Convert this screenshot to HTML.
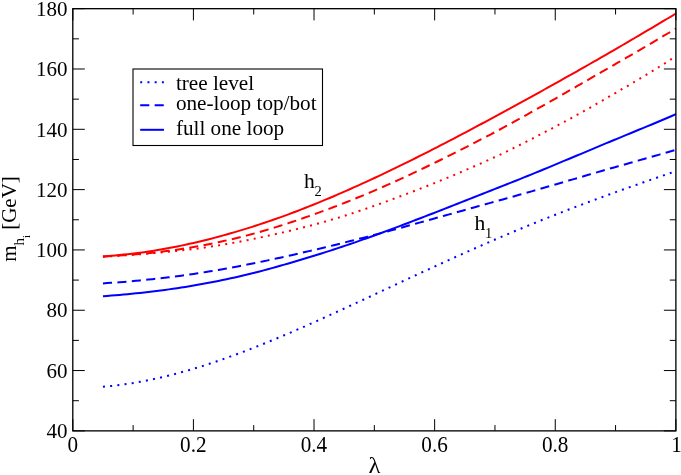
<!DOCTYPE html>
<html><head><meta charset="utf-8"><title>plot</title>
<style>
html,body{margin:0;padding:0;background:#fff;}
svg{display:block;will-change:transform;}
text{font-family:"Liberation Serif",serif;fill:#000;}
</style></head>
<body>
<svg width="681" height="475" viewBox="0 0 681 475">
<rect x="0" y="0" width="681" height="475" fill="#fff"/>
<g>
<path d="M102.95 256.46 L107.08 256.13 L111.20 255.78 L115.32 255.41 L119.44 255.02 L123.56 254.61 L127.68 254.17 L131.81 253.70 L135.93 253.22 L140.05 252.71 L144.17 252.17 L148.29 251.61 L152.42 250.97 L156.54 250.29 L160.66 249.57 L164.78 248.83 L168.90 248.07 L173.02 247.27 L177.15 246.45 L181.27 245.61 L185.39 244.73 L189.51 243.83 L193.63 242.90 L197.75 241.95 L201.88 240.97 L206.00 239.96 L210.12 238.92 L214.24 237.86 L218.36 236.77 L222.49 235.65 L226.61 234.50 L230.73 233.33 L234.85 232.14 L238.97 230.91 L243.09 229.66 L247.22 228.39 L251.34 227.09 L255.46 225.77 L259.58 224.42 L263.70 223.05 L267.82 221.66 L271.95 220.24 L276.07 218.80 L280.19 217.33 L284.31 215.84 L288.43 214.32 L292.56 212.79 L296.68 211.23 L300.80 209.64 L304.92 208.04 L309.04 206.41 L313.16 204.76 L317.29 203.09 L321.41 201.40 L325.53 199.69 L329.65 197.96 L333.77 196.21 L337.89 194.44 L342.02 192.65 L346.14 190.84 L350.26 189.02 L354.38 187.18 L358.50 185.32 L362.63 183.45 L366.75 181.56 L370.87 179.65 L374.99 177.73 L379.11 175.79 L383.23 173.84 L387.36 171.88 L391.48 169.90 L395.60 167.91 L399.72 165.90 L403.84 163.88 L407.96 161.85 L412.09 159.80 L416.21 157.75 L420.33 155.68 L424.45 153.61 L428.57 151.52 L432.70 149.42 L436.82 147.31 L440.94 145.20 L445.06 143.07 L449.18 140.93 L453.30 138.78 L457.43 136.62 L461.55 134.45 L465.67 132.27 L469.79 130.09 L473.91 127.90 L478.04 125.70 L482.16 123.50 L486.28 121.29 L490.40 119.07 L494.52 116.85 L498.64 114.62 L502.77 112.39 L506.89 110.15 L511.01 107.91 L515.13 105.66 L519.25 103.41 L523.37 101.15 L527.50 98.89 L531.62 96.62 L535.74 94.33 L539.86 92.05 L543.98 89.75 L548.11 87.46 L552.23 85.16 L556.35 82.85 L560.47 80.54 L564.59 78.23 L568.71 75.91 L572.84 73.59 L576.96 71.26 L581.08 68.93 L585.20 66.59 L589.32 64.25 L593.44 61.90 L597.57 59.55 L601.69 57.19 L605.81 54.81 L609.93 52.43 L614.05 50.04 L618.18 47.65 L622.30 45.25 L626.42 42.84 L630.54 40.42 L634.66 37.99 L638.78 35.55 L642.91 33.14 L647.03 30.73 L651.15 28.31 L655.27 25.88 L659.39 23.44 L663.51 20.98 L667.64 18.51 L671.76 16.03 L675.88 13.52" fill="none" stroke="#ff0000" stroke-width="2"/>
<path d="M102.95 256.48 L107.08 256.29 L111.20 256.07 L115.32 255.84 L119.44 255.59 L123.56 255.31 L127.68 255.02 L131.81 254.70 L135.93 254.36 L140.05 254.00 L144.17 253.61 L148.29 253.20 L152.42 252.77 L156.54 252.31 L160.66 251.83 L164.78 251.32 L168.90 250.79 L173.02 250.23 L177.15 249.64 L181.27 249.03 L185.39 248.38 L189.51 247.70 L193.63 246.99 L197.75 246.26 L201.88 245.51 L206.00 244.72 L210.12 243.91 L214.24 243.07 L218.36 242.20 L222.49 241.31 L226.61 240.39 L230.73 239.44 L234.85 238.47 L238.97 237.47 L243.09 236.44 L247.22 235.39 L251.34 234.30 L255.46 233.17 L259.58 232.01 L263.70 230.82 L267.82 229.61 L271.95 228.37 L276.07 227.10 L280.19 225.81 L284.31 224.50 L288.43 223.16 L292.56 221.79 L296.68 220.40 L300.80 218.98 L304.92 217.54 L309.04 216.08 L313.16 214.63 L317.29 213.16 L321.41 211.67 L325.53 210.15 L329.65 208.62 L333.77 207.06 L337.89 205.48 L342.02 203.88 L346.14 202.25 L350.26 200.61 L354.38 198.94 L358.50 197.26 L362.63 195.55 L366.75 193.82 L370.87 192.08 L374.99 190.31 L379.11 188.53 L383.23 186.73 L387.36 184.91 L391.48 183.08 L395.60 181.22 L399.72 179.35 L403.84 177.46 L407.96 175.55 L412.09 173.62 L416.21 171.68 L420.33 169.73 L424.45 167.76 L428.57 165.77 L432.70 163.77 L436.82 161.76 L440.94 159.74 L445.06 157.70 L449.18 155.65 L453.30 153.59 L457.43 151.51 L461.55 149.43 L465.67 147.33 L469.79 145.22 L473.91 143.11 L478.04 140.98 L482.16 138.84 L486.28 136.69 L490.40 134.54 L494.52 132.37 L498.64 130.20 L502.77 127.97 L506.89 125.71 L511.01 123.44 L515.13 121.16 L519.25 118.88 L523.37 116.59 L527.50 114.29 L531.62 111.99 L535.74 109.67 L539.86 107.36 L543.98 105.03 L548.11 102.70 L552.23 100.37 L556.35 98.03 L560.47 95.68 L564.59 93.32 L568.71 90.97 L572.84 88.60 L576.96 86.23 L581.08 83.86 L585.20 81.48 L589.32 79.09 L593.44 76.70 L597.57 74.31 L601.69 71.93 L605.81 69.57 L609.93 67.21 L614.05 64.85 L618.18 62.48 L622.30 60.10 L626.42 57.72 L630.54 55.33 L634.66 52.94 L638.78 50.53 L642.91 48.13 L647.03 45.71 L651.15 43.29 L655.27 40.85 L659.39 38.42 L663.51 35.97 L667.64 33.51 L671.76 31.05 L675.88 28.57" fill="none" stroke="#ff0000" stroke-width="2" stroke-dasharray="9.1 5.37"/>
<path d="M102.95 256.78 L107.08 256.51 L111.20 256.25 L115.32 255.97 L119.44 255.70 L123.56 255.41 L127.68 255.12 L131.81 254.83 L135.93 254.52 L140.05 254.21 L144.17 253.89 L148.29 253.56 L152.42 253.21 L156.54 252.86 L160.66 252.49 L164.78 252.11 L168.90 251.71 L173.02 251.30 L177.15 250.88 L181.27 250.43 L185.39 249.98 L189.51 249.50 L193.63 249.01 L197.75 248.50 L201.88 247.95 L206.00 247.34 L210.12 246.71 L214.24 246.07 L218.36 245.40 L222.49 244.72 L226.61 244.01 L230.73 243.29 L234.85 242.54 L238.97 241.78 L243.09 240.99 L247.22 240.18 L251.34 239.35 L255.46 238.50 L259.58 237.63 L263.70 236.73 L267.82 235.82 L271.95 234.88 L276.07 233.94 L280.19 233.02 L284.31 232.07 L288.43 231.11 L292.56 230.12 L296.68 229.11 L300.80 228.08 L304.92 227.03 L309.04 225.95 L313.16 224.86 L317.29 223.74 L321.41 222.60 L325.53 221.44 L329.65 220.26 L333.77 219.06 L337.89 217.84 L342.02 216.58 L346.14 215.27 L350.26 213.94 L354.38 212.59 L358.50 211.22 L362.63 209.84 L366.75 208.43 L370.87 207.00 L374.99 205.55 L379.11 204.09 L383.23 202.60 L387.36 201.10 L391.48 199.58 L395.60 198.04 L399.72 196.49 L403.84 194.95 L407.96 193.41 L412.09 191.85 L416.21 190.27 L420.33 188.67 L424.45 187.06 L428.57 185.43 L432.70 183.78 L436.82 182.12 L440.94 180.44 L445.06 178.75 L449.18 177.04 L453.30 175.32 L457.43 173.58 L461.55 171.82 L465.67 170.05 L469.79 168.27 L473.91 166.47 L478.04 164.66 L482.16 162.83 L486.28 160.99 L490.40 159.13 L494.52 157.26 L498.64 155.38 L502.77 153.41 L506.89 151.39 L511.01 149.35 L515.13 147.31 L519.25 145.25 L523.37 143.17 L527.50 141.08 L531.62 138.98 L535.74 136.86 L539.86 134.73 L543.98 132.59 L548.11 130.43 L552.23 128.26 L556.35 126.07 L560.47 123.87 L564.59 121.65 L568.71 119.42 L572.84 117.17 L576.96 114.91 L581.08 112.63 L585.20 110.33 L589.32 108.02 L593.44 105.70 L597.57 103.35 L601.69 100.99 L605.81 98.61 L609.93 96.21 L614.05 93.80 L618.18 91.36 L622.30 88.96 L626.42 86.58 L630.54 84.18 L634.66 81.76 L638.78 79.32 L642.91 76.85 L647.03 74.36 L651.15 71.85 L655.27 69.31 L659.39 66.74 L663.51 64.15 L667.64 61.53 L671.76 58.89 L675.88 56.21" fill="none" stroke="#ff0000" stroke-width="2" stroke-dasharray="2 5.235"/>
<path d="M102.95 283.39 L107.08 283.12 L111.20 282.84 L115.32 282.54 L119.44 282.23 L123.56 281.90 L127.68 281.56 L131.81 281.20 L135.93 280.82 L140.05 280.43 L144.17 280.03 L148.29 279.60 L152.42 279.17 L156.54 278.71 L160.66 278.24 L164.78 277.75 L168.90 277.25 L173.02 276.73 L177.15 276.20 L181.27 275.65 L185.39 275.08 L189.51 274.50 L193.63 273.90 L197.75 273.29 L201.88 272.65 L206.00 271.99 L210.12 271.32 L214.24 270.63 L218.36 269.92 L222.49 269.21 L226.61 268.47 L230.73 267.72 L234.85 266.96 L238.97 266.18 L243.09 265.39 L247.22 264.59 L251.34 263.77 L255.46 262.93 L259.58 262.09 L263.70 261.23 L267.82 260.36 L271.95 259.48 L276.07 258.58 L280.19 257.67 L284.31 256.75 L288.43 255.82 L292.56 254.90 L296.68 253.97 L300.80 253.04 L304.92 252.09 L309.04 251.14 L313.16 250.17 L317.29 249.20 L321.41 248.21 L325.53 247.22 L329.65 246.22 L333.77 245.21 L337.89 244.19 L342.02 243.16 L346.14 242.13 L350.26 241.09 L354.38 240.05 L358.50 238.99 L362.63 237.93 L366.75 236.87 L370.87 235.80 L374.99 234.72 L379.11 233.64 L383.23 232.54 L387.36 231.42 L391.48 230.31 L395.60 229.19 L399.72 228.06 L403.84 226.93 L407.96 225.80 L412.09 224.67 L416.21 223.53 L420.33 222.39 L424.45 221.25 L428.57 220.11 L432.70 218.96 L436.82 217.81 L440.94 216.67 L445.06 215.52 L449.18 214.37 L453.30 213.22 L457.43 212.07 L461.55 210.92 L465.67 209.77 L469.79 208.61 L473.91 207.46 L478.04 206.31 L482.16 205.16 L486.28 204.01 L490.40 202.86 L494.52 201.71 L498.64 200.56 L502.77 199.42 L506.89 198.27 L511.01 197.12 L515.13 195.98 L519.25 194.83 L523.37 193.69 L527.50 192.55 L531.62 191.38 L535.74 190.18 L539.86 188.98 L543.98 187.78 L548.11 186.58 L552.23 185.38 L556.35 184.18 L560.47 182.98 L564.59 181.78 L568.71 180.58 L572.84 179.38 L576.96 178.18 L581.08 176.98 L585.20 175.78 L589.32 174.57 L593.44 173.36 L597.57 172.15 L601.69 170.94 L605.81 169.74 L609.93 168.59 L614.05 167.44 L618.18 166.28 L622.30 165.11 L626.42 163.95 L630.54 162.77 L634.66 161.59 L638.78 160.40 L642.91 159.25 L647.03 158.11 L651.15 156.95 L655.27 155.79 L659.39 154.62 L663.51 153.43 L667.64 152.24 L671.76 151.03 L675.88 149.81" fill="none" stroke="#0000ff" stroke-width="2" stroke-dasharray="9.1 5.37"/>
<path d="M102.95 296.19 L107.08 295.89 L111.20 295.57 L115.32 295.24 L119.44 294.89 L123.56 294.53 L127.68 294.15 L131.81 293.76 L135.93 293.34 L140.05 292.92 L144.17 292.47 L148.29 292.00 L152.42 291.52 L156.54 291.01 L160.66 290.49 L164.78 289.95 L168.90 289.38 L173.02 288.80 L177.15 288.19 L181.27 287.56 L185.39 286.91 L189.51 286.24 L193.63 285.55 L197.75 284.84 L201.88 284.10 L206.00 283.34 L210.12 282.56 L214.24 281.76 L218.36 280.93 L222.49 280.09 L226.61 279.22 L230.73 278.33 L234.85 277.42 L238.97 276.48 L243.09 275.53 L247.22 274.55 L251.34 273.55 L255.46 272.50 L259.58 271.44 L263.70 270.36 L267.82 269.26 L271.95 268.14 L276.07 266.99 L280.19 265.83 L284.31 264.65 L288.43 263.45 L292.56 262.23 L296.68 260.99 L300.80 259.75 L304.92 258.52 L309.04 257.28 L313.16 256.03 L317.29 254.75 L321.41 253.46 L325.53 252.16 L329.65 250.84 L333.77 249.50 L337.89 248.15 L342.02 246.79 L346.14 245.41 L350.26 244.02 L354.38 242.58 L358.50 241.13 L362.63 239.67 L366.75 238.20 L370.87 236.72 L374.99 235.22 L379.11 233.72 L383.23 232.21 L387.36 230.68 L391.48 229.15 L395.60 227.61 L399.72 226.07 L403.84 224.51 L407.96 222.95 L412.09 221.38 L416.21 219.80 L420.33 218.22 L424.45 216.64 L428.57 215.04 L432.70 213.45 L436.82 211.85 L440.94 210.24 L445.06 208.63 L449.18 207.02 L453.30 205.40 L457.43 203.78 L461.55 202.16 L465.67 200.54 L469.79 198.91 L473.91 197.29 L478.04 195.66 L482.16 194.03 L486.28 192.39 L490.40 190.76 L494.52 189.13 L498.64 187.49 L502.77 185.86 L506.89 184.22 L511.01 182.59 L515.13 180.95 L519.25 179.31 L523.37 177.68 L527.50 176.04 L531.62 174.38 L535.74 172.67 L539.86 170.96 L543.98 169.25 L548.11 167.55 L552.23 165.84 L556.35 164.12 L560.47 162.41 L564.59 160.70 L568.71 158.98 L572.84 157.26 L576.96 155.54 L581.08 153.82 L585.20 152.09 L589.32 150.35 L593.44 148.62 L597.57 146.88 L601.69 145.13 L605.81 143.39 L609.93 141.72 L614.05 140.04 L618.18 138.35 L622.30 136.66 L626.42 134.95 L630.54 133.23 L634.66 131.50 L638.78 129.76 L642.91 128.07 L647.03 126.40 L651.15 124.71 L655.27 123.00 L659.39 121.27 L663.51 119.53 L667.64 117.76 L671.76 115.98 L675.88 114.17" fill="none" stroke="#0000ff" stroke-width="2"/>
<path d="M102.95 386.77 L107.08 386.41 L111.20 386.00 L115.32 385.54 L119.44 385.04 L123.56 384.49 L127.68 383.89 L131.81 383.24 L135.93 382.56 L140.05 381.82 L144.17 381.05 L148.29 380.23 L152.42 379.38 L156.54 378.48 L160.66 377.55 L164.78 376.57 L168.90 375.56 L173.02 374.51 L177.15 373.42 L181.27 372.30 L185.39 371.15 L189.51 369.96 L193.63 368.74 L197.75 367.49 L201.88 366.21 L206.00 364.89 L210.12 363.55 L214.24 362.18 L218.36 360.78 L222.49 359.35 L226.61 357.90 L230.73 356.42 L234.85 354.92 L238.97 353.39 L243.09 351.84 L247.22 350.27 L251.34 348.67 L255.46 347.06 L259.58 345.42 L263.70 343.76 L267.82 342.09 L271.95 340.40 L276.07 338.69 L280.19 336.96 L284.31 335.22 L288.43 333.46 L292.56 331.69 L296.68 329.90 L300.80 328.11 L304.92 326.29 L309.04 324.47 L313.16 322.64 L317.29 320.79 L321.41 318.94 L325.53 317.08 L329.65 315.20 L333.77 313.33 L337.89 311.44 L342.02 309.55 L346.14 307.65 L350.26 305.74 L354.38 303.83 L358.50 301.92 L362.63 300.00 L366.75 298.08 L370.87 296.16 L374.99 294.24 L379.11 292.31 L383.23 290.39 L387.36 288.46 L391.48 286.53 L395.60 284.61 L399.72 282.69 L403.84 280.76 L407.96 278.84 L412.09 276.93 L416.21 275.01 L420.33 273.10 L424.45 271.20 L428.57 269.30 L432.70 267.40 L436.82 265.51 L440.94 263.62 L445.06 261.74 L449.18 259.87 L453.30 258.01 L457.43 256.15 L461.55 254.30 L465.67 252.45 L469.79 250.62 L473.91 248.79 L478.04 246.97 L482.16 245.16 L486.28 243.36 L490.40 241.57 L494.52 239.79 L498.64 238.02 L502.77 236.26 L506.89 234.51 L511.01 232.77 L515.13 231.04 L519.25 229.32 L523.37 227.62 L527.50 225.92 L531.62 224.23 L535.74 222.56 L539.86 220.89 L543.98 219.24 L548.11 217.60 L552.23 215.97 L556.35 214.35 L560.47 212.74 L564.59 211.14 L568.71 209.55 L572.84 207.97 L576.96 206.41 L581.08 204.85 L585.20 203.30 L589.32 201.77 L593.44 200.24 L597.57 198.72 L601.69 197.21 L605.81 195.71 L609.93 194.22 L614.05 192.74 L618.18 191.26 L622.30 189.79 L626.42 188.33 L630.54 186.88 L634.66 185.43 L638.78 183.99 L642.91 182.55 L647.03 181.11 L651.15 179.68 L655.27 178.26 L659.39 176.83 L663.51 175.41 L667.64 173.99 L671.76 172.57 L675.88 171.15" fill="none" stroke="#0000ff" stroke-width="2" stroke-dasharray="2 5.235"/>
</g>
<g stroke="#000" stroke-width="1.0" fill="none">
<line x1="72.80" y1="430.87" x2="72.80" y2="419.17"/>
<line x1="72.80" y1="8.68" x2="72.80" y2="20.38"/>
<line x1="133.11" y1="430.87" x2="133.11" y2="425.07"/>
<line x1="133.11" y1="8.68" x2="133.11" y2="14.48"/>
<line x1="193.42" y1="430.87" x2="193.42" y2="419.17"/>
<line x1="193.42" y1="8.68" x2="193.42" y2="20.38"/>
<line x1="253.72" y1="430.87" x2="253.72" y2="425.07"/>
<line x1="253.72" y1="8.68" x2="253.72" y2="14.48"/>
<line x1="314.03" y1="430.87" x2="314.03" y2="419.17"/>
<line x1="314.03" y1="8.68" x2="314.03" y2="20.38"/>
<line x1="374.34" y1="430.87" x2="374.34" y2="425.07"/>
<line x1="374.34" y1="8.68" x2="374.34" y2="14.48"/>
<line x1="434.65" y1="430.87" x2="434.65" y2="419.17"/>
<line x1="434.65" y1="8.68" x2="434.65" y2="20.38"/>
<line x1="494.96" y1="430.87" x2="494.96" y2="425.07"/>
<line x1="494.96" y1="8.68" x2="494.96" y2="14.48"/>
<line x1="555.26" y1="430.87" x2="555.26" y2="419.17"/>
<line x1="555.26" y1="8.68" x2="555.26" y2="20.38"/>
<line x1="615.57" y1="430.87" x2="615.57" y2="425.07"/>
<line x1="615.57" y1="8.68" x2="615.57" y2="14.48"/>
<line x1="675.88" y1="430.87" x2="675.88" y2="419.17"/>
<line x1="675.88" y1="8.68" x2="675.88" y2="20.38"/>
<line x1="72.8" y1="430.87" x2="84.8" y2="430.87"/>
<line x1="675.88" y1="430.87" x2="663.88" y2="430.87"/>
<line x1="72.8" y1="400.71" x2="78.89999999999999" y2="400.71"/>
<line x1="675.88" y1="400.71" x2="669.78" y2="400.71"/>
<line x1="72.8" y1="370.56" x2="84.8" y2="370.56"/>
<line x1="675.88" y1="370.56" x2="663.88" y2="370.56"/>
<line x1="72.8" y1="340.40" x2="78.89999999999999" y2="340.40"/>
<line x1="675.88" y1="340.40" x2="669.78" y2="340.40"/>
<line x1="72.8" y1="310.24" x2="84.8" y2="310.24"/>
<line x1="675.88" y1="310.24" x2="663.88" y2="310.24"/>
<line x1="72.8" y1="280.09" x2="78.89999999999999" y2="280.09"/>
<line x1="675.88" y1="280.09" x2="669.78" y2="280.09"/>
<line x1="72.8" y1="249.93" x2="84.8" y2="249.93"/>
<line x1="675.88" y1="249.93" x2="663.88" y2="249.93"/>
<line x1="72.8" y1="219.78" x2="78.89999999999999" y2="219.78"/>
<line x1="675.88" y1="219.78" x2="669.78" y2="219.78"/>
<line x1="72.8" y1="189.62" x2="84.8" y2="189.62"/>
<line x1="675.88" y1="189.62" x2="663.88" y2="189.62"/>
<line x1="72.8" y1="159.46" x2="78.89999999999999" y2="159.46"/>
<line x1="675.88" y1="159.46" x2="669.78" y2="159.46"/>
<line x1="72.8" y1="129.31" x2="84.8" y2="129.31"/>
<line x1="675.88" y1="129.31" x2="663.88" y2="129.31"/>
<line x1="72.8" y1="99.15" x2="78.89999999999999" y2="99.15"/>
<line x1="675.88" y1="99.15" x2="669.78" y2="99.15"/>
<line x1="72.8" y1="68.99" x2="84.8" y2="68.99"/>
<line x1="675.88" y1="68.99" x2="663.88" y2="68.99"/>
<line x1="72.8" y1="38.84" x2="78.89999999999999" y2="38.84"/>
<line x1="675.88" y1="38.84" x2="669.78" y2="38.84"/>
<line x1="72.8" y1="8.68" x2="84.8" y2="8.68"/>
<line x1="675.88" y1="8.68" x2="663.88" y2="8.68"/>
</g>
<rect x="72.8" y="8.68" width="603.08" height="422.19" fill="none" stroke="#000" stroke-width="1.32"/>
<g>
<text x="67.5" y="438.07" text-anchor="end" font-size="21">40</text>
<text x="67.5" y="377.76" text-anchor="end" font-size="21">60</text>
<text x="67.5" y="317.44" text-anchor="end" font-size="21">80</text>
<text x="67.5" y="257.13" text-anchor="end" font-size="21">100</text>
<text x="67.5" y="196.82" text-anchor="end" font-size="21">120</text>
<text x="67.5" y="136.51" text-anchor="end" font-size="21">140</text>
<text x="67.5" y="76.19" text-anchor="end" font-size="21">160</text>
<text x="67.5" y="15.88" text-anchor="end" font-size="21">180</text>
<text transform="translate(72.70 451.7) scale(1 1.05)" x="0" y="0" text-anchor="middle" font-size="21.2">0</text>
<text transform="translate(193.32 451.7) scale(1 1.05)" x="0" y="0" text-anchor="middle" font-size="21.2">0.2</text>
<text transform="translate(313.93 451.7) scale(1 1.05)" x="0" y="0" text-anchor="middle" font-size="21.2">0.4</text>
<text transform="translate(434.55 451.7) scale(1 1.05)" x="0" y="0" text-anchor="middle" font-size="21.2">0.6</text>
<text transform="translate(555.16 451.7) scale(1 1.05)" x="0" y="0" text-anchor="middle" font-size="21.2">0.8</text>
<text transform="translate(676.58 451.7) scale(1 1.05)" x="0" y="0" text-anchor="middle" font-size="21.2">1</text>
</g>
<!-- x axis label -->
<text transform="translate(374.6 472.8) scale(1.08 1)" x="0" y="0" text-anchor="middle" font-size="23">λ</text>
<!-- y axis label -->
<g transform="translate(15.7 261.7) rotate(-90)">
<text x="0" y="0" font-size="21">m</text>
<text x="16.3" y="8.3" font-size="14.9">h</text>
<text x="23.7" y="14.0" font-size="10.5">i</text>
<text x="31.9" y="0" font-size="21">[GeV]</text>
</g>
<!-- legend -->
<rect x="133" y="69" width="189.5" height="76.5" fill="#fff" stroke="#000" stroke-width="1.1"/>
<line x1="140.2" y1="82.3" x2="164" y2="82.3" stroke="#0000ff" stroke-width="2" stroke-dasharray="2 5.235"/>
<line x1="140.2" y1="105.2" x2="164" y2="105.2" stroke="#0000ff" stroke-width="2" stroke-dasharray="9.1 5.37"/>
<line x1="140.2" y1="129.8" x2="164" y2="129.8" stroke="#0000ff" stroke-width="2"/>
<text x="175.9" y="89.9" font-size="21.2">tree level</text>
<text x="175.9" y="110.2" font-size="21.2">one-loop top/bot</text>
<text x="175.9" y="135.2" font-size="21.2">full one loop</text>
<!-- curve labels -->
<text x="304" y="187.6" font-size="21.6">h</text>
<text x="314.4" y="195.8" font-size="14.5">2</text>
<text x="474.4" y="229.5" font-size="21.6">h</text>
<text x="484.9" y="237.8" font-size="14.5">1</text>
</svg>
</body></html>
